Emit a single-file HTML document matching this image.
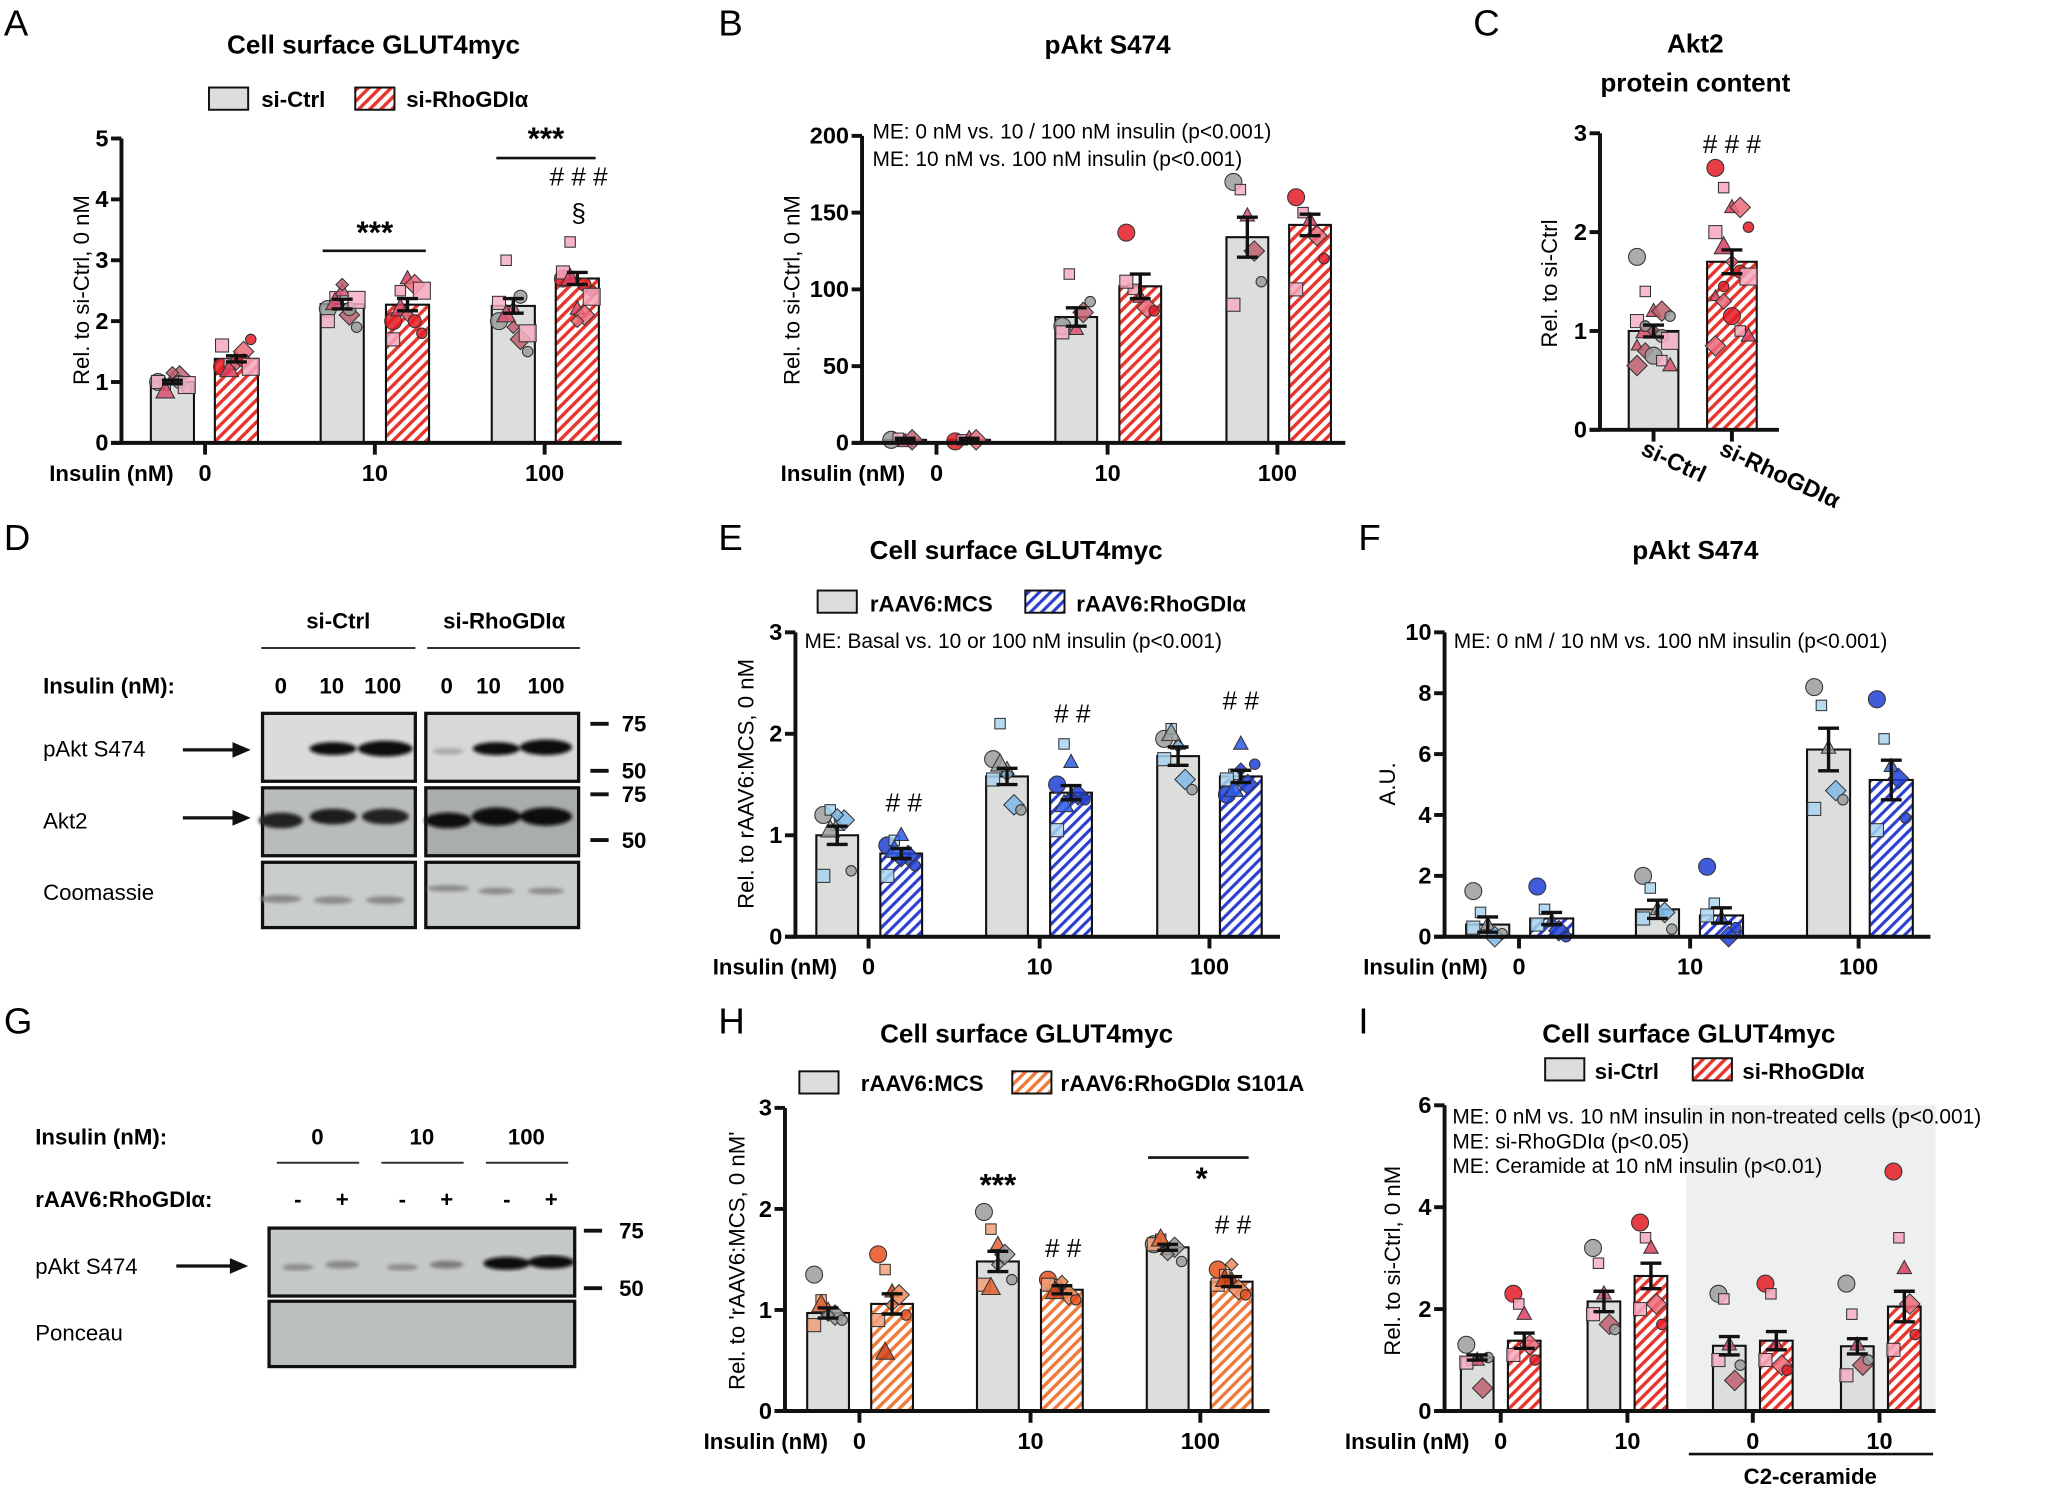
<!DOCTYPE html>
<html><head><meta charset="utf-8"><style>
html,body{margin:0;padding:0;background:#fff;}
svg{display:block;font-family:"Liberation Sans",Arial,sans-serif;}
</style></head><body>
<svg id="fig" xmlns="http://www.w3.org/2000/svg" width="2048" height="1492" viewBox="0 0 1568 1142" preserveAspectRatio="none">
<defs>
<pattern id="hRed" patternUnits="userSpaceOnUse" width="6" height="6" patternTransform="rotate(45)"><rect width="6" height="6" fill="#fff"/><rect width="2.6" height="6" fill="#e8362e"/></pattern>
<pattern id="hBlue" patternUnits="userSpaceOnUse" width="6" height="6" patternTransform="rotate(45)"><rect width="6" height="6" fill="#fff"/><rect width="2.4" height="6" fill="#2c3fd0"/></pattern>
<pattern id="hOrange" patternUnits="userSpaceOnUse" width="6" height="6" patternTransform="rotate(45)"><rect width="6" height="6" fill="#fff"/><rect width="2.6" height="6" fill="#ee7a3c"/></pattern>
<filter id="blur"><feGaussianBlur stdDeviation="1.5"/></filter>
</defs>
<g id="static" font-size="17">
<text x="3" y="27" font-size="28">A</text>
<text x="550" y="27" font-size="28">B</text>
<text x="1128" y="27" font-size="28">C</text>
<text x="3" y="421" font-size="28">D</text>
<text x="550" y="421" font-size="28">E</text>
<text x="1040" y="421" font-size="28">F</text>
<text x="3" y="791" font-size="28">G</text>
<text x="550" y="791" font-size="28">H</text>
<text x="1040" y="791" font-size="28">I</text>

<g font-weight="bold" font-size="20" text-anchor="middle">
<text x="286" y="41">Cell surface GLUT4myc</text>
<text x="848" y="41">pAkt S474</text>
<text x="1298" y="40">Akt2</text>
<text x="1298" y="70">protein content</text>
<text x="778" y="428">Cell surface GLUT4myc</text>
<text x="1298" y="428">pAkt S474</text>
<text x="786" y="798">Cell surface GLUT4myc</text>
<text x="1293" y="798">Cell surface GLUT4myc</text>
</g>

<g font-weight="bold" font-size="17">
<g>
<rect x="160" y="67" width="30" height="17" fill="#dcdedd" stroke="#111" stroke-width="1.5"/><text x="200" y="82">si-Ctrl</text>
<rect x="272" y="67" width="30" height="17" fill="url(#hRed)" stroke="#111" stroke-width="1.5"/><text x="311" y="82">si-RhoGDIα</text>
</g>
<g>
<rect x="626" y="452" width="30" height="17" fill="#dcdedd" stroke="#111" stroke-width="1.5"/><text x="666" y="468">rAAV6:MCS</text>
<rect x="785" y="452" width="30" height="17" fill="url(#hBlue)" stroke="#111" stroke-width="1.5"/><text x="824" y="468">rAAV6:RhoGDIα</text>
</g>
<g>
<rect x="612" y="820" width="30" height="17" fill="#dcdedd" stroke="#111" stroke-width="1.5"/><text x="659" y="835">rAAV6:MCS</text>
<rect x="775" y="820" width="30" height="17" fill="url(#hOrange)" stroke="#111" stroke-width="1.5"/><text x="812" y="835">rAAV6:RhoGDIα S101A</text>
</g>
<g>
<rect x="1183" y="810" width="30" height="17" fill="#dcdedd" stroke="#111" stroke-width="1.5"/><text x="1221" y="826">si-Ctrl</text>
<rect x="1296" y="810" width="30" height="17" fill="url(#hRed)" stroke="#111" stroke-width="1.5"/><text x="1334" y="826">si-RhoGDIα</text>
</g>
</g>

<g font-size="16">
<text x="668" y="106">ME: 0 nM vs. 10 / 100 nM insulin (p&lt;0.001)</text>
<text x="668" y="127">ME: 10 nM vs. 100 nM insulin (p&lt;0.001)</text>
<text x="616" y="496">ME: Basal vs. 10 or 100 nM insulin (p&lt;0.001)</text>
<text x="1113" y="496">ME: 0 nM / 10 nM vs. 100 nM insulin (p&lt;0.001)</text>
</g>

<g font-size="20" text-anchor="middle" font-weight="bold">
<text x="181" y="308" font-weight="normal">#</text>
<line x1="247" y1="192" x2="326" y2="192" stroke="#111" stroke-width="2"/>
<text x="287" y="186" font-size="24">***</text>
<line x1="380" y1="121" x2="456" y2="121" stroke="#111" stroke-width="2"/>
<text x="418" y="114" font-size="24">***</text>
<text x="443" y="142" font-weight="normal"># # #</text>
<text x="443" y="170" font-weight="normal">§</text>
<text x="1326" y="117" font-weight="normal"># # #</text>
<text x="692" y="621" font-weight="normal"># #</text>
<text x="821" y="553" font-weight="normal"># #</text>
<text x="950" y="543" font-weight="normal"># #</text>
<text x="764" y="915" font-size="24">***</text>
<text x="814" y="962" font-weight="normal"># #</text>
<line x1="879" y1="886" x2="956" y2="886" stroke="#111" stroke-width="2"/>
<text x="920" y="910" font-size="24">*</text>
<text x="944" y="944" font-weight="normal"># #</text>
</g>

<line x1="1293" y1="1113" x2="1480" y2="1113" stroke="#111" stroke-width="2"/>
<text x="1386" y="1136" text-anchor="middle" font-weight="bold" font-size="17">C2-ceramide</text>

<g>
<g font-weight="bold" font-size="17" text-anchor="middle">
<text x="259" y="481">si-Ctrl</text><text x="386" y="481">si-RhoGDIα</text>
<text x="215" y="531">0</text><text x="254" y="531">10</text><text x="293" y="531">100</text>
<text x="342" y="531">0</text><text x="374" y="531">10</text><text x="418" y="531">100</text>
</g>
<text x="33" y="531" font-weight="bold" font-size="17">Insulin (nM):</text>
<line x1="200" y1="496" x2="318" y2="496" stroke="#333" stroke-width="1.5"/>
<line x1="327" y1="496" x2="444" y2="496" stroke="#333" stroke-width="1.5"/>
<rect x="201" y="546" width="117" height="52" fill="#d9dcda" stroke="#111" stroke-width="2.5"/>
<rect x="326" y="546" width="117" height="52" fill="#d6d9d7" stroke="#111" stroke-width="2.5"/>
<rect x="201" y="603" width="117" height="52" fill="#b8bcba" stroke="#111" stroke-width="2.5"/>
<rect x="326" y="603" width="117" height="52" fill="#a9adab" stroke="#111" stroke-width="2.5"/>
<rect x="201" y="660" width="117" height="50" fill="#c9cdcb" stroke="#111" stroke-width="2.5"/>
<rect x="326" y="660" width="117" height="50" fill="#c9cdcb" stroke="#111" stroke-width="2.5"/>
<g fill="#111" filter="url(#blur)">
<ellipse cx="255" cy="573" rx="18" ry="5"/><ellipse cx="295" cy="573" rx="21" ry="6"/>
<ellipse cx="343" cy="575" rx="12" ry="2.5" fill="#aaa"/><ellipse cx="380" cy="573" rx="18" ry="5"/><ellipse cx="418" cy="572" rx="20" ry="6"/>
<ellipse cx="215" cy="628" rx="17" ry="6" fill="#222"/><ellipse cx="255" cy="625" rx="18" ry="6" fill="#1a1a1a"/><ellipse cx="295" cy="625" rx="18" ry="6" fill="#222"/>
<ellipse cx="343" cy="628" rx="18" ry="6"/><ellipse cx="380" cy="625" rx="19" ry="7"/><ellipse cx="418" cy="625" rx="20" ry="7"/>
<ellipse cx="215" cy="688" rx="16" ry="3" fill="#888"/><ellipse cx="255" cy="689" rx="15" ry="3" fill="#8c8c8c"/><ellipse cx="295" cy="689" rx="15" ry="3" fill="#888"/>
<ellipse cx="343" cy="680" rx="16" ry="2.5" fill="#8a8a8a"/><ellipse cx="380" cy="682" rx="14" ry="2.5" fill="#8a8a8a"/><ellipse cx="418" cy="682" rx="14" ry="2.5" fill="#8a8a8a"/>
</g>
<g font-size="17"><text x="33" y="579">pAkt S474</text><text x="33" y="634">Akt2</text><text x="33" y="689">Coomassie</text></g>
<line x1="140" y1="574" x2="180" y2="574" stroke="#111" stroke-width="2.5"/><polygon points="178,568 192,574 178,580" fill="#111"/>
<line x1="140" y1="626" x2="180" y2="626" stroke="#111" stroke-width="2.5"/><polygon points="178,620 192,626 178,632" fill="#111"/>
<g font-weight="bold" font-size="17"><line x1="452" y1="554" x2="466" y2="554" stroke="#111" stroke-width="3"/><text x="476" y="560">75</text>
<line x1="452" y1="590" x2="466" y2="590" stroke="#111" stroke-width="3"/><text x="476" y="596">50</text>
<line x1="452" y1="608" x2="466" y2="608" stroke="#111" stroke-width="3"/><text x="476" y="614">75</text>
<line x1="452" y1="643" x2="466" y2="643" stroke="#111" stroke-width="3"/><text x="476" y="649">50</text></g>
</g>

<g>
<g font-weight="bold" font-size="17">
<text x="27" y="876">Insulin (nM):</text><text x="27" y="924">rAAV6:RhoGDIα:</text>
<g text-anchor="middle"><text x="243" y="876">0</text><text x="323" y="876">10</text><text x="403" y="876">100</text>
<text x="228" y="924">-</text><text x="262" y="924">+</text><text x="308" y="924">-</text><text x="342" y="924">+</text><text x="388" y="924">-</text><text x="422" y="924">+</text></g>
</g>
<line x1="212" y1="890" x2="275" y2="890" stroke="#333" stroke-width="1.5"/>
<line x1="292" y1="890" x2="355" y2="890" stroke="#333" stroke-width="1.5"/>
<line x1="372" y1="890" x2="435" y2="890" stroke="#333" stroke-width="1.5"/>
<rect x="206" y="940" width="234" height="52" fill="#c5c9c7" stroke="#111" stroke-width="2.5"/>
<rect x="206" y="996" width="234" height="50" fill="#bbbfbd" stroke="#111" stroke-width="2.5"/>
<g filter="url(#blur)">
<ellipse cx="228" cy="970" rx="12" ry="2.5" fill="#8a8a8a"/><ellipse cx="262" cy="968" rx="13" ry="3" fill="#888"/>
<ellipse cx="308" cy="970" rx="12" ry="2.5" fill="#8a8a8a"/><ellipse cx="342" cy="968" rx="13" ry="3" fill="#7a7a7a"/>
<ellipse cx="388" cy="967" rx="18" ry="5" fill="#111"/><ellipse cx="422" cy="966" rx="18" ry="5" fill="#111"/>
</g>
<g font-size="17"><text x="27" y="975">pAkt S474</text><text x="27" y="1026">Ponceau</text></g>
<line x1="135" y1="969" x2="178" y2="969" stroke="#111" stroke-width="2.5"/><polygon points="176,963 190,969 176,975" fill="#111"/>
<g font-weight="bold" font-size="17"><line x1="447" y1="942" x2="461" y2="942" stroke="#111" stroke-width="3"/><text x="474" y="948">75</text>
<line x1="447" y1="986" x2="461" y2="986" stroke="#111" stroke-width="3"/><text x="474" y="992">50</text></g>
</g>

<rect x="1291" y="846" width="191" height="234" fill="#eef0ef"/>
<g font-size="16">
<text x="1112" y="860">ME: 0 nM vs. 10 nM insulin in non-treated cells (p&lt;0.001)</text>
<text x="1112" y="879">ME: si-RhoGDIα (p&lt;0.05)</text>
<text x="1112" y="898">ME: Ceramide at 10 nM insulin (p&lt;0.01)</text>
</g>
</g>
<g id="charts"></g>
</svg>
<script>
const aCategories = ["0", "10", "100"];
const aMeans = [1.0, 1.38, 2.28, 2.27, 2.25, 2.7];
const aSem = [0.03, 0.05, 0.08, 0.1, 0.12, 0.1];
const aPoints = [
  [1.0,0.95,1.05,1.1,0.9,1.0,0.85,1.15,1.0,0.95],
  [1.25,1.3,1.4,1.5,1.7,1.6,1.2,1.3,1.35,1.25],
  [2.2,2.4,2.5,2.1,1.9,2.0,2.3,2.6,2.2,2.35],
  [2.0,2.5,2.7,2.6,1.8,1.7,2.2,2.1,2.0,2.5],
  [2.0,3.0,2.2,1.7,1.5,2.3,2.1,1.9,2.4,1.8],
  [2.7,3.3,2.2,2.1,2.5,2.8,2.7,2.0,2.6,2.4]];
const aTicks = [0,1,2,3,4,5];

const bCategories = ["0", "10", "100"];
const bMeans = [2, 2, 82, 102, 134, 142];
const bSem = [1, 1, 6, 8, 13, 7];
const bPoints = [[2,3,1,2],[1,2,3,2],[76,110,74,85,92,72],[137,100,95,88,86,105],[170,165,148,125,105,90],[160,150,145,135,120,100]];
const bTicks = [0,50,100,150,200];

const cCategories = ["si-Ctrl", "si-RhoGDIα"];
const cMeans = [1.0, 1.7];
const cSem = [0.06, 0.12];
const cPoints = [
  [1.75,1.4,1.2,1.2,1.15,1.1,1.0,1.0,0.95,0.9,0.85,0.8,0.75,0.7,0.65,0.65,1.05],
  [2.65,2.45,2.25,2.25,2.05,2.0,1.85,1.7,1.6,1.55,1.35,1.3,1.15,1.0,0.95,0.85,1.45]];
const cTicks = [0,1,2,3];

const eCategories = ["0", "10", "100"];
const eMeans = [1.0, 0.82, 1.58, 1.42, 1.78, 1.58];
const eSem = [0.09, 0.05, 0.08, 0.07, 0.09, 0.06];
const ePoints = [[1.2,1.25,1.1,1.15,0.65,0.6,1.05,1.2],[0.9,0.95,1.0,0.8,0.7,0.6,0.85,0.75],[1.75,2.1,1.65,1.3,1.25,1.55,1.7,1.6],[1.5,1.9,1.72,1.4,1.35,1.05,1.3,1.38],[1.95,2.05,1.9,1.55,1.45,1.75,2.0,1.88],[1.4,1.6,1.9,1.5,1.7,1.55,1.45,1.65]];
const eTicks = [0,1,2,3];

const fCategories = ["0", "10", "100"];
const fMeans = [0.4, 0.6, 0.9, 0.7, 6.15, 5.15];
const fSem = [0.25, 0.2, 0.3, 0.25, 0.7, 0.65];
const fPoints = [[1.5,0.8,0.4,0.0,0.1,0.3],[1.65,0.9,0.5,0.2,0.0,0.4],[2.0,1.6,0.9,0.8,0.25,0.6],[2.3,1.1,0.6,0.0,0.3,0.7],[8.2,7.6,6.2,4.8,4.5,4.2],[7.8,6.5,5.6,5.2,3.9,3.5]];
const fTicks = [0,2,4,6,8,10];

const hCategories = ["0", "10", "100"];
const hMeans = [0.97, 1.06, 1.48, 1.2, 1.62, 1.28];
const hSem = [0.05, 0.1, 0.1, 0.04, 0.03, 0.05];
const hPoints = [[1.35,1.1,1.0,0.95,0.9,0.85,1.05,0.95],[1.55,1.4,1.18,1.15,0.95,0.9,0.58,1.05],[1.97,1.8,1.65,1.55,1.3,1.25,1.22,1.45],[1.3,1.25,1.2,1.15,1.1,1.25,1.18,1.28],[1.65,1.7,1.6,1.62,1.48,1.65,1.7,1.55],[1.4,1.35,1.3,1.2,1.15,1.25,1.3,1.45]];
const hTicks = [0,1,2,3];

const iCategories = ["0", "10", "0", "10"];
const iMeans = [1.05, 1.38, 2.15, 2.65, 1.28, 1.38, 1.27, 2.05];
const iSem = [0.05, 0.15, 0.2, 0.25, 0.18, 0.18, 0.15, 0.3];
const iPoints = [[1.3,1.0,1.0,0.45,1.05,0.95],[2.3,2.1,1.9,1.3,1.0,1.1],[3.2,2.9,2.3,1.7,1.6,1.9],[3.7,3.4,3.2,2.1,1.7,2.0],[2.3,2.2,1.3,0.6,0.9,1.0],[2.5,2.3,1.3,0.9,0.8,1.0],[2.5,1.9,1.3,0.9,1.0,0.7],[4.7,3.4,2.8,2.1,1.5,1.2]];
const iTicks = [0,2,4,6];

const NS = "http://www.w3.org/2000/svg";
const root = document.getElementById('charts');
function mk(tag, attrs, parent) {
  const e = document.createElementNS(NS, tag);
  for (const k in attrs) e.setAttribute(k, attrs[k]);
  parent.appendChild(e);
  return e;
}
const palRed = {ctrl:['#9a9d9c','#f4b0c4','#d9506e','#c06070'], trt:['#e31b23','#f4a6bb','#d94060','#ec6a7a'], fill2:'url(#hRed)'};
const palBlue = {ctrl:['#9a9d9c','#a8d4f0','#9a9d9c','#7fb8e6'], trt:['#1f3fd6','#a8d4f0','#2b5ce6','#1f3fd6'], fill2:'url(#hBlue)'};
const palOr = {ctrl:['#9a9d9c','#f0a07a','#e06030','#9a9d9c'], trt:['#e8501c','#f0a07a','#d04010','#f08a5a'], fill2:'url(#hOrange)'};

function marker(g, shape, cx, cy, r, fill) {
  let m;
  if (shape === 0) m = mk('circle', {cx:cx, cy:cy, r:r}, g);
  else if (shape === 1) m = mk('rect', {x:cx-r, y:cy-r, width:2*r, height:2*r}, g);
  else if (shape === 2) m = mk('polygon', {points:`${cx},${cy-r*1.2} ${cx-r*1.1},${cy+r*0.8} ${cx+r*1.1},${cy+r*0.8}`}, g);
  else m = mk('polygon', {points:`${cx},${cy-r*1.2} ${cx+r*1.2},${cy} ${cx},${cy+r*1.2} ${cx-r*1.2},${cy}`}, g);
  m.setAttribute('fill', fill);
  m.setAttribute('stroke', '#333');
  m.setAttribute('stroke-width', '0.8');
  m.setAttribute('fill-opacity', '0.85');
  return m;
}

function chart(p) {
  const g = mk('g', {}, root);
  
  
  const y = v => p.y0 - v / p.vmax * (p.y0 - p.y1);
  p.means.forEach((v, i) => {
    const cx = p.centers[i];
    const trt = (i % 2 === 1);
    const bar = mk('rect', {x:cx - p.w/2, y:y(v), width:p.w, height:p.y0 - y(v), fill: trt ? p.pal.fill2 : '#dcdedd', stroke:'#111', 'stroke-width':1.6}, g);
    
    
    const pg = mk('g', {}, g);
    
    
    const cols = trt ? p.pal.trt : p.pal.ctrl;
    p.pts[i].forEach((pv, j) => {
      const off = ((j % 5) - 2) * (p.w / 6);
      const r = (j % 3 === 0) ? 6.5 : ((j % 3 === 1) ? 4 : 5);
      marker(pg, j % 4, cx + off, y(pv), r, cols[j % cols.length]);
    });
    const s = p.sem[i];
    const eb = mk('path', {d:`M${cx},${y(v+s)}V${y(v-s)}M${cx-8},${y(v+s)}H${cx+8}M${cx-8},${y(v-s)}H${cx+8}`, stroke:'#111', 'stroke-width':2.6, fill:'none'}, g);
    
    
  });
  const ax = mk('path', {d:`M${p.ax},${y(p.vmax)}V${p.y0}M${p.ax-8},${p.y0}H${p.xend}`, stroke:'#111', 'stroke-width':3, fill:'none'}, g);
  
  
  p.ticks.forEach(t => {
    mk('line', {x1:p.ax-8, x2:p.ax, y1:y(t), y2:y(t), stroke:'#111', 'stroke-width':3}, g);
    const tl = mk('text', {x:p.ax-10, y:y(t)+6, 'text-anchor':'end', 'font-weight':'bold', 'font-size':18}, g);
    tl.textContent = t;
    
    
  });
  p.cats.forEach((c, k) => {
    const gx = p.groupX[k];
    mk('line', {x1:gx, x2:gx, y1:p.y0, y2:p.y0+9, stroke:'#111', 'stroke-width':3}, g);
    const xl = mk('text', {x:gx, y:p.y0+29, 'text-anchor':'middle', 'font-weight':'bold', 'font-size':18}, g);
    if (p.rotLabels) {
      xl.setAttribute('transform', `rotate(25 ${gx} ${p.y0+29})`);
      xl.setAttribute('text-anchor', 'start');
      xl.setAttribute('x', gx - 14);
      xl.setAttribute('y', p.y0 + 24);
    }
    xl.textContent = c;
    
    
  });
  if (!p.rotLabels) {
    const il = mk('text', {x:p.groupX[0]-24, y:p.y0+29, 'text-anchor':'end', 'font-weight':'bold', 'font-size':17}, g);
    il.textContent = 'Insulin (nM)';
    
    
  }
  const yt = mk('text', {x:0, y:0, 'text-anchor':'middle', 'font-size':17, transform:`translate(${p.ytx},${p.ytMid}) rotate(-90)`}, g);
  yt.textContent = p.ytitle;
  
  
}

chart({key:'a', name:'chart-a', means:aMeans, sem:aSem, pts:aPoints, ticks:aTicks, cats:aCategories, vmax:5, y0:339, y1:106, ax:93, xend:476,
  centers:[132,181,262,312,393,442], w:33, groupX:[157,287,417], pal:palRed, ytitle:'Rel. to si-Ctrl, 0 nM', ytx:68, ytMid:222});
chart({key:'b', name:'chart-b', means:bMeans, sem:bSem, pts:bPoints, ticks:bTicks, cats:bCategories, vmax:200, y0:339, y1:104, ax:660, xend:1030,
  centers:[693,742,824,873,955,1003], w:32, groupX:[717,848,978], pal:palRed, ytitle:'Rel. to si-Ctrl, 0 nM', ytx:612, ytMid:222});
chart({key:'c', name:'chart-c', means:cMeans, sem:cSem, pts:cPoints, ticks:cTicks, cats:cCategories, vmax:3, y0:329, y1:102, ax:1225, xend:1362,
  centers:[1266,1326], w:38, groupX:[1266,1326], pal:palRed, rotLabels:true, ytitle:'Rel. to si-Ctrl', ytx:1192, ytMid:217});
chart({key:'e', name:'chart-e', means:eMeans, sem:eSem, pts:ePoints, ticks:eTicks, cats:eCategories, vmax:3, y0:717, y1:484, ax:609, xend:980,
  centers:[641,690,771,820,902,950], w:32, groupX:[665,796,926], pal:palBlue, ytitle:'Rel. to rAAV6:MCS, 0 nM', ytx:577, ytMid:600});
chart({key:'f', name:'chart-f', means:fMeans, sem:fSem, pts:fPoints, ticks:fTicks, cats:fCategories, vmax:10, y0:717, y1:484, ax:1106, xend:1478,
  centers:[1139,1188,1269,1318,1400,1448], w:33, groupX:[1163,1294,1423], pal:palBlue, ytitle:'A.U.', ytx:1068, ytMid:600});
chart({key:'h', name:'chart-h', means:hMeans, sem:hSem, pts:hPoints, ticks:hTicks, cats:hCategories, vmax:3, y0:1080, y1:848, ax:601, xend:972,
  centers:[634,683,764,813,894,943], w:32, groupX:[658,789,919], pal:palOr, ytitle:"Rel. to 'rAAV6:MCS, 0 nM'", ytx:570, ytMid:965});
chart({key:'i', name:'chart-i', means:iMeans, sem:iSem, pts:iPoints, ticks:iTicks, cats:iCategories, vmax:6, y0:1080, y1:846, ax:1106, xend:1482,
  centers:[1131,1167,1228,1264,1324,1360,1422,1458], w:25, groupX:[1149,1246,1342,1439], pal:palRed, ytitle:'Rel. to si-Ctrl, 0 nM', ytx:1072, ytMid:965});
</script>
</body></html>
